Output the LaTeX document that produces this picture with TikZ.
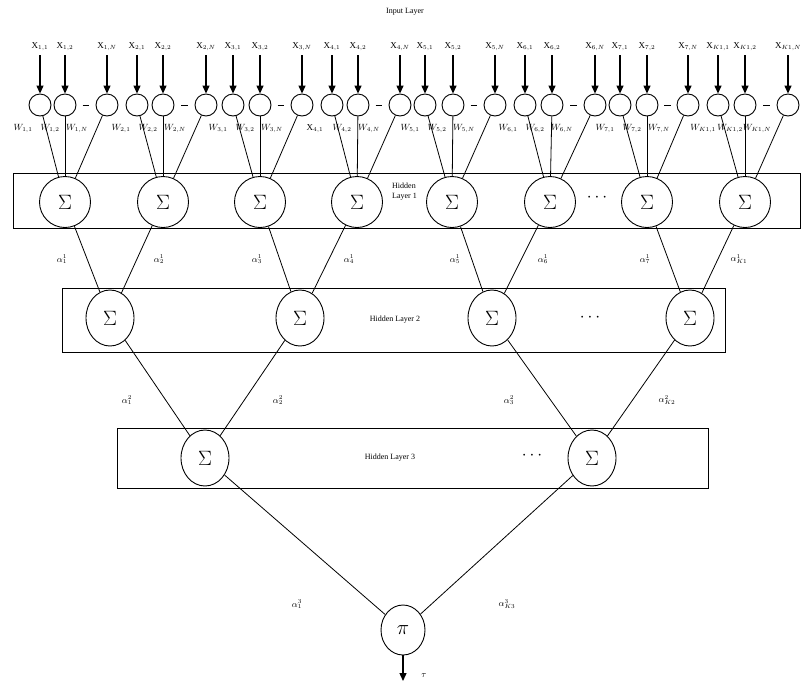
\documentclass[tikz,border=0pt]{standalone}
\usepackage{fontspec}
\setmainfont{Liberation Serif}
\usetikzlibrary{shapes.geometric,arrows.meta,calc}
\begin{document}
\begin{tikzpicture}[x=1pt,y=-1pt,
  inp/.style={circle,draw,line width=0.9pt,minimum size=22pt,inner sep=0pt,fill=white},
  sig/.style={circle,draw,line width=0.9pt,minimum size=51pt,inner sep=0pt,fill=white,font=\fontsize{20}{20}\selectfont},
  sige/.style={ellipse,draw,line width=0.9pt,minimum width=48pt,minimum height=56pt,inner sep=0pt,fill=white,font=\fontsize{20}{20}\selectfont},
  lbl/.style={font=\fontsize{9}{10}\selectfont,inner sep=1pt},
  ttl/.style={font=\fontsize{8}{9}\selectfont,inner sep=0pt},
  lbox/.style={draw,line width=0.9pt,inner sep=0pt,anchor=north west},
  conn/.style={line width=0.8pt},
  arr/.style={line width=1.3pt,-{Triangle[length=8pt,width=7pt]}},
  dotsn/.style={font=\fontsize{16}{16}\selectfont\bfseries,inner sep=0pt}]
\useasboundingbox (0,0) rectangle (811,686);

% layer boxes
\node[lbox,minimum width=787pt,minimum height=55pt] (box1) at (13,173) {};
\node[lbox,minimum width=663pt,minimum height=64pt] (box2) at (62,288) {};
\node[lbox,minimum width=591pt,minimum height=60pt] (box3) at (117,428) {};

\node[ttl] (tin) at (405,12) {Input Layer};
\node[ttl,align=left,anchor=west] (t1) at (392,192) {Hidden\\[1pt]Layer 1};
\node[ttl] (t2) at (395,320) {Hidden Layer 2};
\node[ttl] (t3) at (390,458) {Hidden Layer 3};
\node[dotsn] (d1) at (597,198) {$\cdots$};
\node[dotsn] (d2) at (590,318) {$\cdots$};
\node[dotsn] (d3) at (532,456) {$\cdots$};

% input groups
\foreach \g/\gl/\a/\b/\c/\m/\wf in {1/1/40/65/107/65/W, 2/2/137/163/206/163/W, 3/3/233/260/302/260/W, 4/4/332/358/400/357/{\mathrm{X}}, 5/5/425/453/495/452/W, 6/6/525/552/595/550/W, 7/7/620/647/688/647/W, 8/K1/718/745/788/745/W}{
  \node[inp] (in-\g-1) at (\a,105) {};
  \node[inp] (in-\g-2) at (\b,105) {};
  \node[inp] (in-\g-N) at (\c,105) {};
  \node[lbl] (xl-\g-1) at (\a,47) {$\mathrm{X}_{\gl,1}$};
  \node[lbl] (xl-\g-2) at (\b,47) {$\mathrm{X}_{\gl,2}$};
  \node[lbl] (xl-\g-N) at (\c,47) {$\mathrm{X}_{\gl,N}$};
  \draw[arr,shorten <=3pt] (xl-\g-1) -- (in-\g-1);
  \draw[arr,shorten <=3pt] (xl-\g-2) -- (in-\g-2);
  \draw[arr,shorten <=3pt] (xl-\g-N) -- (in-\g-N);
  \draw[conn] ($(in-\g-2)!0.42!(in-\g-N)$) -- ($(in-\g-2)!0.58!(in-\g-N)$);
  \node[sig] (h1-\g) at (\m,202) {$\Sigma$};
  \draw[conn] (in-\g-1) -- (h1-\g);
  \draw[conn] (in-\g-2) -- (h1-\g);
  \draw[conn] (in-\g-N) -- (h1-\g);
  \node[lbl] (wl-\g-1) at (\m-42,129) {$\wf_{\gl,1}$};
  \node[lbl] (wl-\g-2) at (\m-15,129) {$W_{\gl,2}$};
  \node[lbl] (wl-\g-N) at (\m+12,129) {$W_{\gl,N}$};
}

% hidden layer 2
\node[sige] (h2-1) at (110,318) {$\Sigma$};
\node[sige] (h2-2) at (300,318) {$\Sigma$};
\node[sige] (h2-3) at (492,318) {$\Sigma$};
\node[sige] (h2-4) at (690,318) {$\Sigma$};
\draw[conn] (h1-1) -- (h2-1);
\draw[conn] (h1-2) -- (h2-1);
\draw[conn] (h1-3) -- (h2-2);
\draw[conn] (h1-4) -- (h2-2);
\draw[conn] (h1-5) -- (h2-3);
\draw[conn] (h1-6) -- (h2-3);
\draw[conn] (h1-7) -- (h2-4);
\draw[conn] (h1-8) -- (h2-4);
\node[lbl] (a11) at (62,259) {$\alpha^1_1$};
\node[lbl] (a12) at (159,259) {$\alpha^1_2$};
\node[lbl] (a13) at (257,259) {$\alpha^1_3$};
\node[lbl] (a14) at (349,259) {$\alpha^1_4$};
\node[lbl] (a15) at (455,259) {$\alpha^1_5$};
\node[lbl] (a16) at (543,259) {$\alpha^1_6$};
\node[lbl] (a17) at (645,259) {$\alpha^1_7$};
\node[lbl] (a18) at (739,259) {$\alpha^1_{K1}$};

% hidden layer 3
\node[sige] (h3-1) at (205,458) {$\Sigma$};
\node[sige] (h3-2) at (592,458) {$\Sigma$};
\draw[conn] (h2-1) -- (h3-1);
\draw[conn] (h2-2) -- (h3-1);
\draw[conn] (h2-3) -- (h3-2);
\draw[conn] (h2-4) -- (h3-2);
\node[lbl] (a21) at (127,400) {$\alpha^2_1$};
\node[lbl] (a22) at (278,400) {$\alpha^2_2$};
\node[lbl] (a23) at (509,400) {$\alpha^2_3$};
\node[lbl] (a24) at (667,400) {$\alpha^2_{K2}$};

% output
\node[ellipse,draw,line width=0.9pt,minimum width=44pt,minimum height=50pt,inner sep=0pt,fill=white,font=\fontsize{20}{20}\selectfont] (pi) at (403,630) {$\pi$};
\draw[conn] (h3-1) -- (pi);
\draw[conn] (h3-2) -- (pi);
\node[lbl] (a31) at (297,604) {$\alpha^3_1$};
\node[lbl] (a32) at (507,604) {$\alpha^3_{K3}$};
\coordinate (tauend) at (403,681);
\draw[arr] (pi) -- (tauend);
\node[lbl] (tau) at (424,676) {$\tau$};
\end{tikzpicture}
\end{document}
